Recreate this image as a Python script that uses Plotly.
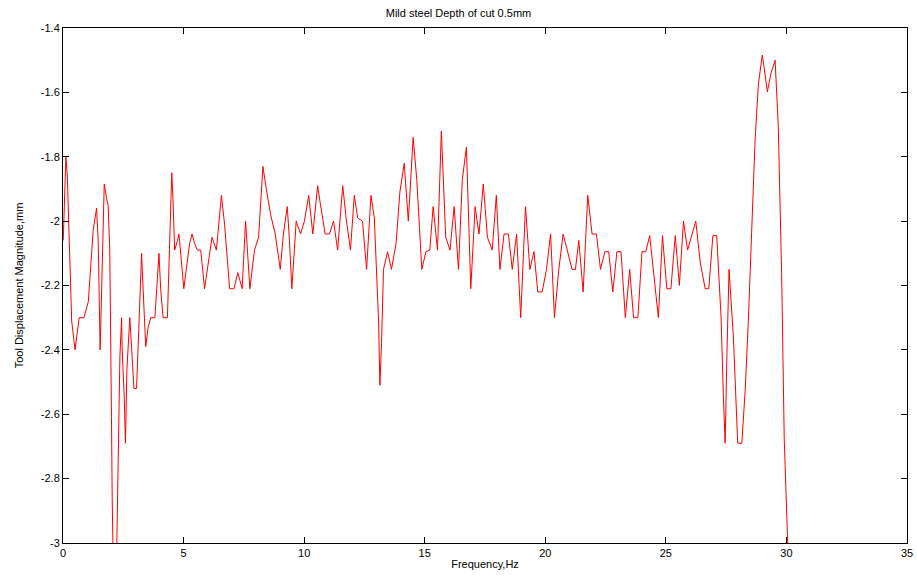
import plotly.graph_objects as go

# Frequency (Hz) and tool displacement magnitude (mm)
freq_hz = [
    0.01, 0.12, 0.18, 0.36, 0.50, 0.67, 0.87, 1.05, 1.25, 1.39, 1.46, 1.50, 1.54, 1.60,
    1.71, 1.81, 1.87, 1.94, 1.99, 2.01, 2.04, 2.09, 2.21, 2.29, 2.36, 2.43, 2.45, 2.54,
    2.59, 2.65, 2.73, 2.77, 2.85, 2.94, 3.05, 3.12, 3.19, 3.26, 3.28, 3.36, 3.43, 3.53,
    3.64, 3.81, 3.94, 3.98, 4.05, 4.15, 4.33, 4.40, 4.47, 4.51, 4.56, 4.63, 4.75, 4.81,
    5.01, 5.25, 5.35, 5.46,
    5.57, 5.71, 5.87, 6.01, 6.18, 6.36, 6.57, 6.70, 6.91, 7.09, 7.25, 7.43, 7.57, 7.75,
    7.94, 8.11, 8.29, 8.43, 8.61, 8.80, 9.01, 9.14, 9.30, 9.39, 9.49, 9.67, 9.85, 10.01,
    10.19, 10.36, 10.56, 10.67, 10.87, 11.05, 11.22, 11.39, 11.60, 11.74, 11.92, 12.08,
    12.22, 12.42,
    12.59, 12.77, 12.91, 13.02, 13.09, 13.14, 13.21, 13.29, 13.46, 13.62, 13.81, 13.97,
    14.15, 14.32, 14.43, 14.52, 14.67, 14.77, 14.88, 15.05, 15.21, 15.35, 15.53, 15.69,
    15.87, 16.05, 16.22, 16.40, 16.56, 16.73, 16.84, 16.91, 17.09, 17.25, 17.43,
    17.60, 17.80, 17.97, 18.12, 18.29, 18.47, 18.63, 18.81, 18.98, 19.18, 19.36, 19.53,
    19.69, 19.87, 20.05, 20.22, 20.38, 20.56, 20.74, 20.91, 21.11, 21.25, 21.39, 21.57,
    21.76, 21.94, 22.12, 22.29, 22.47, 22.63, 22.80, 22.97, 23.14, 23.32, 23.50, 23.66,
    23.84, 24.01, 24.17, 24.33, 24.52, 24.69, 24.86, 25.04, 25.21, 25.39, 25.56, 25.73,
    25.90, 26.07, 26.24, 26.43, 26.63, 26.78, 26.95, 27.11, 27.29, 27.39, 27.46, 27.53,
    27.62, 27.80, 27.98, 28.15, 28.29, 28.42, 28.56, 28.70, 28.84, 29.00, 29.07, 29.21,
    29.36, 29.53, 29.66, 29.80, 29.91, 30.05, 30.12,
]
displacement_mm = [
    -2.06, -1.80, -1.86, -2.31, -2.40, -2.30, -2.30, -2.25, -2.03, -1.96, -2.06, -2.32, -2.40, -2.22,
    -1.885, -1.93, -1.95, -2.09, -2.35, -2.61, -2.86, -3.10, -3.10, -2.73, -2.42, -2.30, -2.39, -2.55,
    -2.69, -2.46, -2.34, -2.30, -2.40, -2.52, -2.52, -2.36, -2.26, -2.10, -2.14, -2.28, -2.39, -2.33,
    -2.30, -2.30, -2.16, -2.10, -2.21, -2.30, -2.30, -2.13, -1.93, -1.85, -1.93, -2.09, -2.06, -2.04,
    -2.21, -2.07, -2.04, -2.07,
    -2.09, -2.09, -2.21, -2.13, -2.05, -2.09, -1.92, -2.01, -2.21, -2.21, -2.16, -2.21, -2.00, -2.21,
    -2.09, -2.05, -1.83, -1.90, -1.98, -2.04, -2.15, -2.04, -1.955, -2.06, -2.21, -2.00, -2.04, -2.00,
    -1.92, -2.04, -1.89, -1.945, -2.04, -2.04, -2.00, -2.09, -1.89, -1.99, -2.09, -1.92,
    -1.99, -2.00,
    -2.15, -1.92, -1.99, -2.19, -2.32, -2.51, -2.38, -2.15, -2.095, -2.15, -2.07, -1.91,
    -1.82, -2.00, -1.84, -1.74, -1.87, -2.01, -2.15, -2.095, -2.09, -1.955, -2.09, -1.72,
    -2.05, -2.09, -1.955, -2.15, -1.87, -1.77, -2.04, -2.21, -1.955, -2.04, -1.885,
    -2.05, -2.09, -1.92, -2.15, -2.04, -2.04, -2.15, -2.04, -2.30, -1.955, -2.15, -2.095,
    -2.22, -2.22, -2.15, -2.04, -2.30, -2.15, -2.04, -2.09, -2.15, -2.15, -2.06, -2.22,
    -1.92, -2.04, -2.04, -2.15, -2.095, -2.095, -2.22, -2.095, -2.095, -2.30, -2.15, -2.30,
    -2.30, -2.095, -2.095, -2.045, -2.18, -2.30, -2.045, -2.21, -2.21, -2.045, -2.20, -2.00,
    -2.09, -2.045, -2.00, -2.13, -2.21, -2.21, -2.045, -2.045, -2.30, -2.556, -2.69, -2.42,
    -2.15, -2.36, -2.69, -2.69, -2.525, -2.31, -2.017, -1.748, -1.572, -1.484, -1.52, -1.598,
    -1.54, -1.50, -1.70, -2.16, -2.68, -3.00, -3.15,
]

x_tick_vals = [0, 5, 10, 15, 20, 25, 30, 35]
x_tick_text = ["0", "5", "10", "15", "20", "25", "30", "35"]
y_tick_vals = [-1.4, -1.6, -1.8, -2.0, -2.2, -2.4, -2.6, -2.8, -3.0]
y_tick_text = ["-1.4", "-1.6", "-1.8", "-2", "-2.2", "-2.4", "-2.6", "-2.8", "-3"]

font_family = "Liberation Sans, Arial, sans-serif"

fig = go.Figure()
fig.add_trace(go.Scatter(
    x=freq_hz, y=displacement_mm, mode="lines",
    line=dict(color="#ff0000", width=1),
    showlegend=False, hoverinfo="x+y",
))

axis_common = dict(
    showgrid=False, zeroline=False, showline=True, linecolor="black", linewidth=1,
    mirror="ticks", ticks="inside", ticklen=6, tickcolor="black", tickwidth=1,
    automargin=False, ticklabeloverflow="allow",
    tickfont=dict(family=font_family, size=11, color="black"),
)

fig.update_layout(
    width=917, height=581,
    paper_bgcolor="white", plot_bgcolor="white",
    margin=dict(l=63, r=10, t=28, b=38),
    title=dict(text="Mild steel Depth of cut 0.5mm", x=0.5, xanchor="center",
               y=0.978, yanchor="middle",
               font=dict(family=font_family, size=11, color="black")),
    xaxis=dict(range=[0, 35], tickmode="array", tickvals=x_tick_vals, ticktext=x_tick_text,
               title=dict(text="Frequency,Hz", standoff=2,
                          font=dict(family=font_family, size=11, color="black")),
               **axis_common),
    yaxis=dict(range=[-3, -1.4], tickmode="array", tickvals=y_tick_vals, ticktext=y_tick_text,
               title=dict(text="Tool Displacement Magnitude,mm", standoff=14,
                          font=dict(family=font_family, size=11, color="black")),
               **axis_common),
)

# Remove the default page margin so the figure fills the browser window exactly.
fig.write_html("out.html",
               config={"displayModeBar": False},
               post_script="document.body.style.margin='0';document.body.style.overflow='hidden';")
